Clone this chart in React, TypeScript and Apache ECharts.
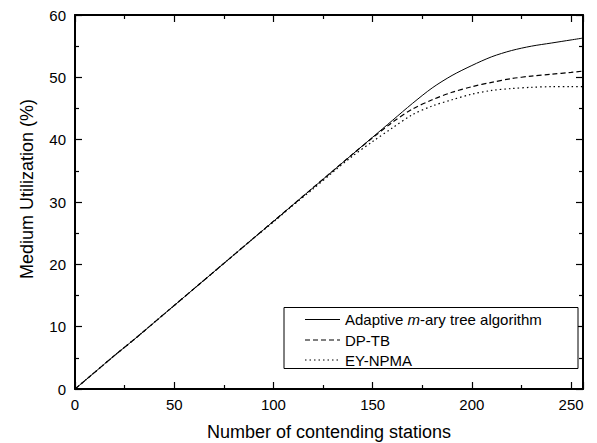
import React, { useEffect, useRef } from "react";
import * as echarts from "echarts";

const stations = [0, 10, 20, 30, 40, 50, 60, 70, 80, 90, 100, 110, 120, 130, 140, 150, 160, 170, 180, 190, 200, 210, 220, 230, 240, 250, 256];
const adaptive = [0, 2.7, 5.4, 8.0, 10.7, 13.4, 16.1, 18.8, 21.5, 24.2, 26.9, 29.6, 32.3, 35.0, 37.7, 40.4, 43.1, 45.8, 48.3, 50.3, 51.9, 53.3, 54.3, 55.0, 55.5, 56.0, 56.3];
const dptb = [0, 2.7, 5.4, 8.0, 10.7, 13.4, 16.1, 18.8, 21.5, 24.2, 26.9, 29.6, 32.3, 35.0, 37.7, 40.3, 42.8, 44.9, 46.4, 47.6, 48.5, 49.2, 49.8, 50.2, 50.5, 50.8, 51.0];
const eynpma = [0, 2.7, 5.4, 8.0, 10.7, 13.4, 16.1, 18.8, 21.5, 24.2, 26.8, 29.5, 32.1, 34.8, 37.4, 39.7, 41.9, 44.0, 45.4, 46.4, 47.3, 47.9, 48.2, 48.4, 48.5, 48.5, 48.5];
const seriesNames = ["Adaptive m-ary tree algorithm", "DP-TB", "EY-NPMA"];
const xTicks = [0, 50, 100, 150, 200, 250];
const yTicks = [0, 10, 20, 30, 40, 50, 60];

const FONT = "Liberation Sans, Arial, sans-serif";
const DASH_PATTERNS: Array<number[] | null> = [null, [5, 3], [1.5, 3]];

export default function App() {
  const ref = useRef<HTMLDivElement>(null);
  useEffect(() => {
    if (!ref.current) return;
    const chart = echarts.init(ref.current, null, { renderer: "svg" });
    const pair = (ys: number[]) => stations.map((x, i) => [x, ys[i]]);
    const axisCommon = {
      axisLine: { show: true, onZero: false, lineStyle: { color: "#000", width: 2 } },
      axisTick: { show: true, inside: true, length: 7, lineStyle: { color: "#000", width: 1.2 } },
      minorTick: { show: true, splitNumber: 2, length: 4, lineStyle: { color: "#000", width: 1.2 } },
      splitLine: { show: false },
    };
    const rowY = [319.5, 340, 360];
    const legendGraphics: any[] = [
      {
        type: "rect",
        shape: { x: 284, y: 307.5, width: 294, height: 61 },
        style: { fill: "#fff", stroke: "#000", lineWidth: 1 },
        z: 10,
      },
    ];
    seriesNames.forEach((name, i) => {
      legendGraphics.push({
        type: "line",
        shape: { x1: 305, y1: rowY[i], x2: 340, y2: rowY[i] },
        style: { stroke: "#000", lineWidth: i === 0 ? 1 : 1.2, lineDash: DASH_PATTERNS[i] || undefined },
        z: 11,
      });
      legendGraphics.push({
        type: "text",
        x: 345,
        y: rowY[i],
        z: 11,
        style: {
          text: i === 0 ? "{n|Adaptive }{i|m}{n|-ary tree algorithm}" : name,
          fill: "#000",
          font: `15px ${FONT}`,
          verticalAlign: "middle",
          rich: {
            i: { fontStyle: "italic", fontFamily: FONT, fontSize: 15, fill: "#000" },
            n: { fontFamily: FONT, fontSize: 15, fill: "#000" },
          },
        },
      });
    });
    legendGraphics.push({
      type: "text",
      x: 27,
      y: 189,
      rotation: Math.PI / 2,
      style: {
        text: "Medium Utilization (%)",
        fill: "#000",
        font: `18px ${FONT}`,
        align: "center",
        verticalAlign: "middle",
      },
    });
    chart.setOption({
      animation: false,
      backgroundColor: "#fff",
      grid: { left: 75, right: 14, top: 15, bottom: 54, outerBoundsMode: "none", containLabel: false },
      xAxis: [
        {
          type: "value",
          min: 0,
          max: 256,
          interval: 50,
          position: "bottom",
          ...axisCommon,
          axisLabel: {
            color: "#000",
            fontFamily: FONT,
            fontSize: 15,
            margin: 8,
            formatter: (v: number) => (xTicks.includes(v) ? String(v) : ""),
          },
          name: "Number of contending stations",
          nameLocation: "middle",
          nameGap: 34,
          nameTextStyle: { color: "#000", fontFamily: FONT, fontSize: 18 },
        },
        {
          type: "value",
          min: 0,
          max: 256,
          interval: 50,
          position: "top",
          ...axisCommon,
          axisLabel: { show: false },
        },
      ],
      yAxis: [
        {
          type: "value",
          min: 0,
          max: 60,
          interval: 10,
          position: "left",
          ...axisCommon,
          axisLabel: {
            color: "#000",
            fontFamily: FONT,
            fontSize: 15,
            margin: 9,
            formatter: (v: number) => (yTicks.includes(v) ? String(v) : ""),
          },
        },
        {
          type: "value",
          min: 0,
          max: 60,
          interval: 10,
          position: "right",
          ...axisCommon,
          axisLabel: { show: false },
        },
      ],
      graphic: legendGraphics,
      series: [
        {
          name: seriesNames[0],
          type: "line",
          data: pair(adaptive),
          showSymbol: false,
          symbol: "none",
          smooth: 0.3,
          lineStyle: { color: "#000", width: 1, type: "solid" },
        },
        {
          name: seriesNames[1],
          type: "line",
          data: pair(dptb),
          showSymbol: false,
          symbol: "none",
          smooth: 0.3,
          lineStyle: { color: "#000", width: 1.2, type: [5, 3] },
        },
        {
          name: seriesNames[2],
          type: "line",
          data: pair(eynpma),
          showSymbol: false,
          symbol: "none",
          smooth: 0.3,
          lineStyle: { color: "#000", width: 1.2, type: [1.5, 3] },
        },
      ],
    });
    return () => chart.dispose();
  }, []);
  return <div ref={ref} style={{ width: 597, height: 443, position: "absolute", left: 0, top: 0 }} />;
}
